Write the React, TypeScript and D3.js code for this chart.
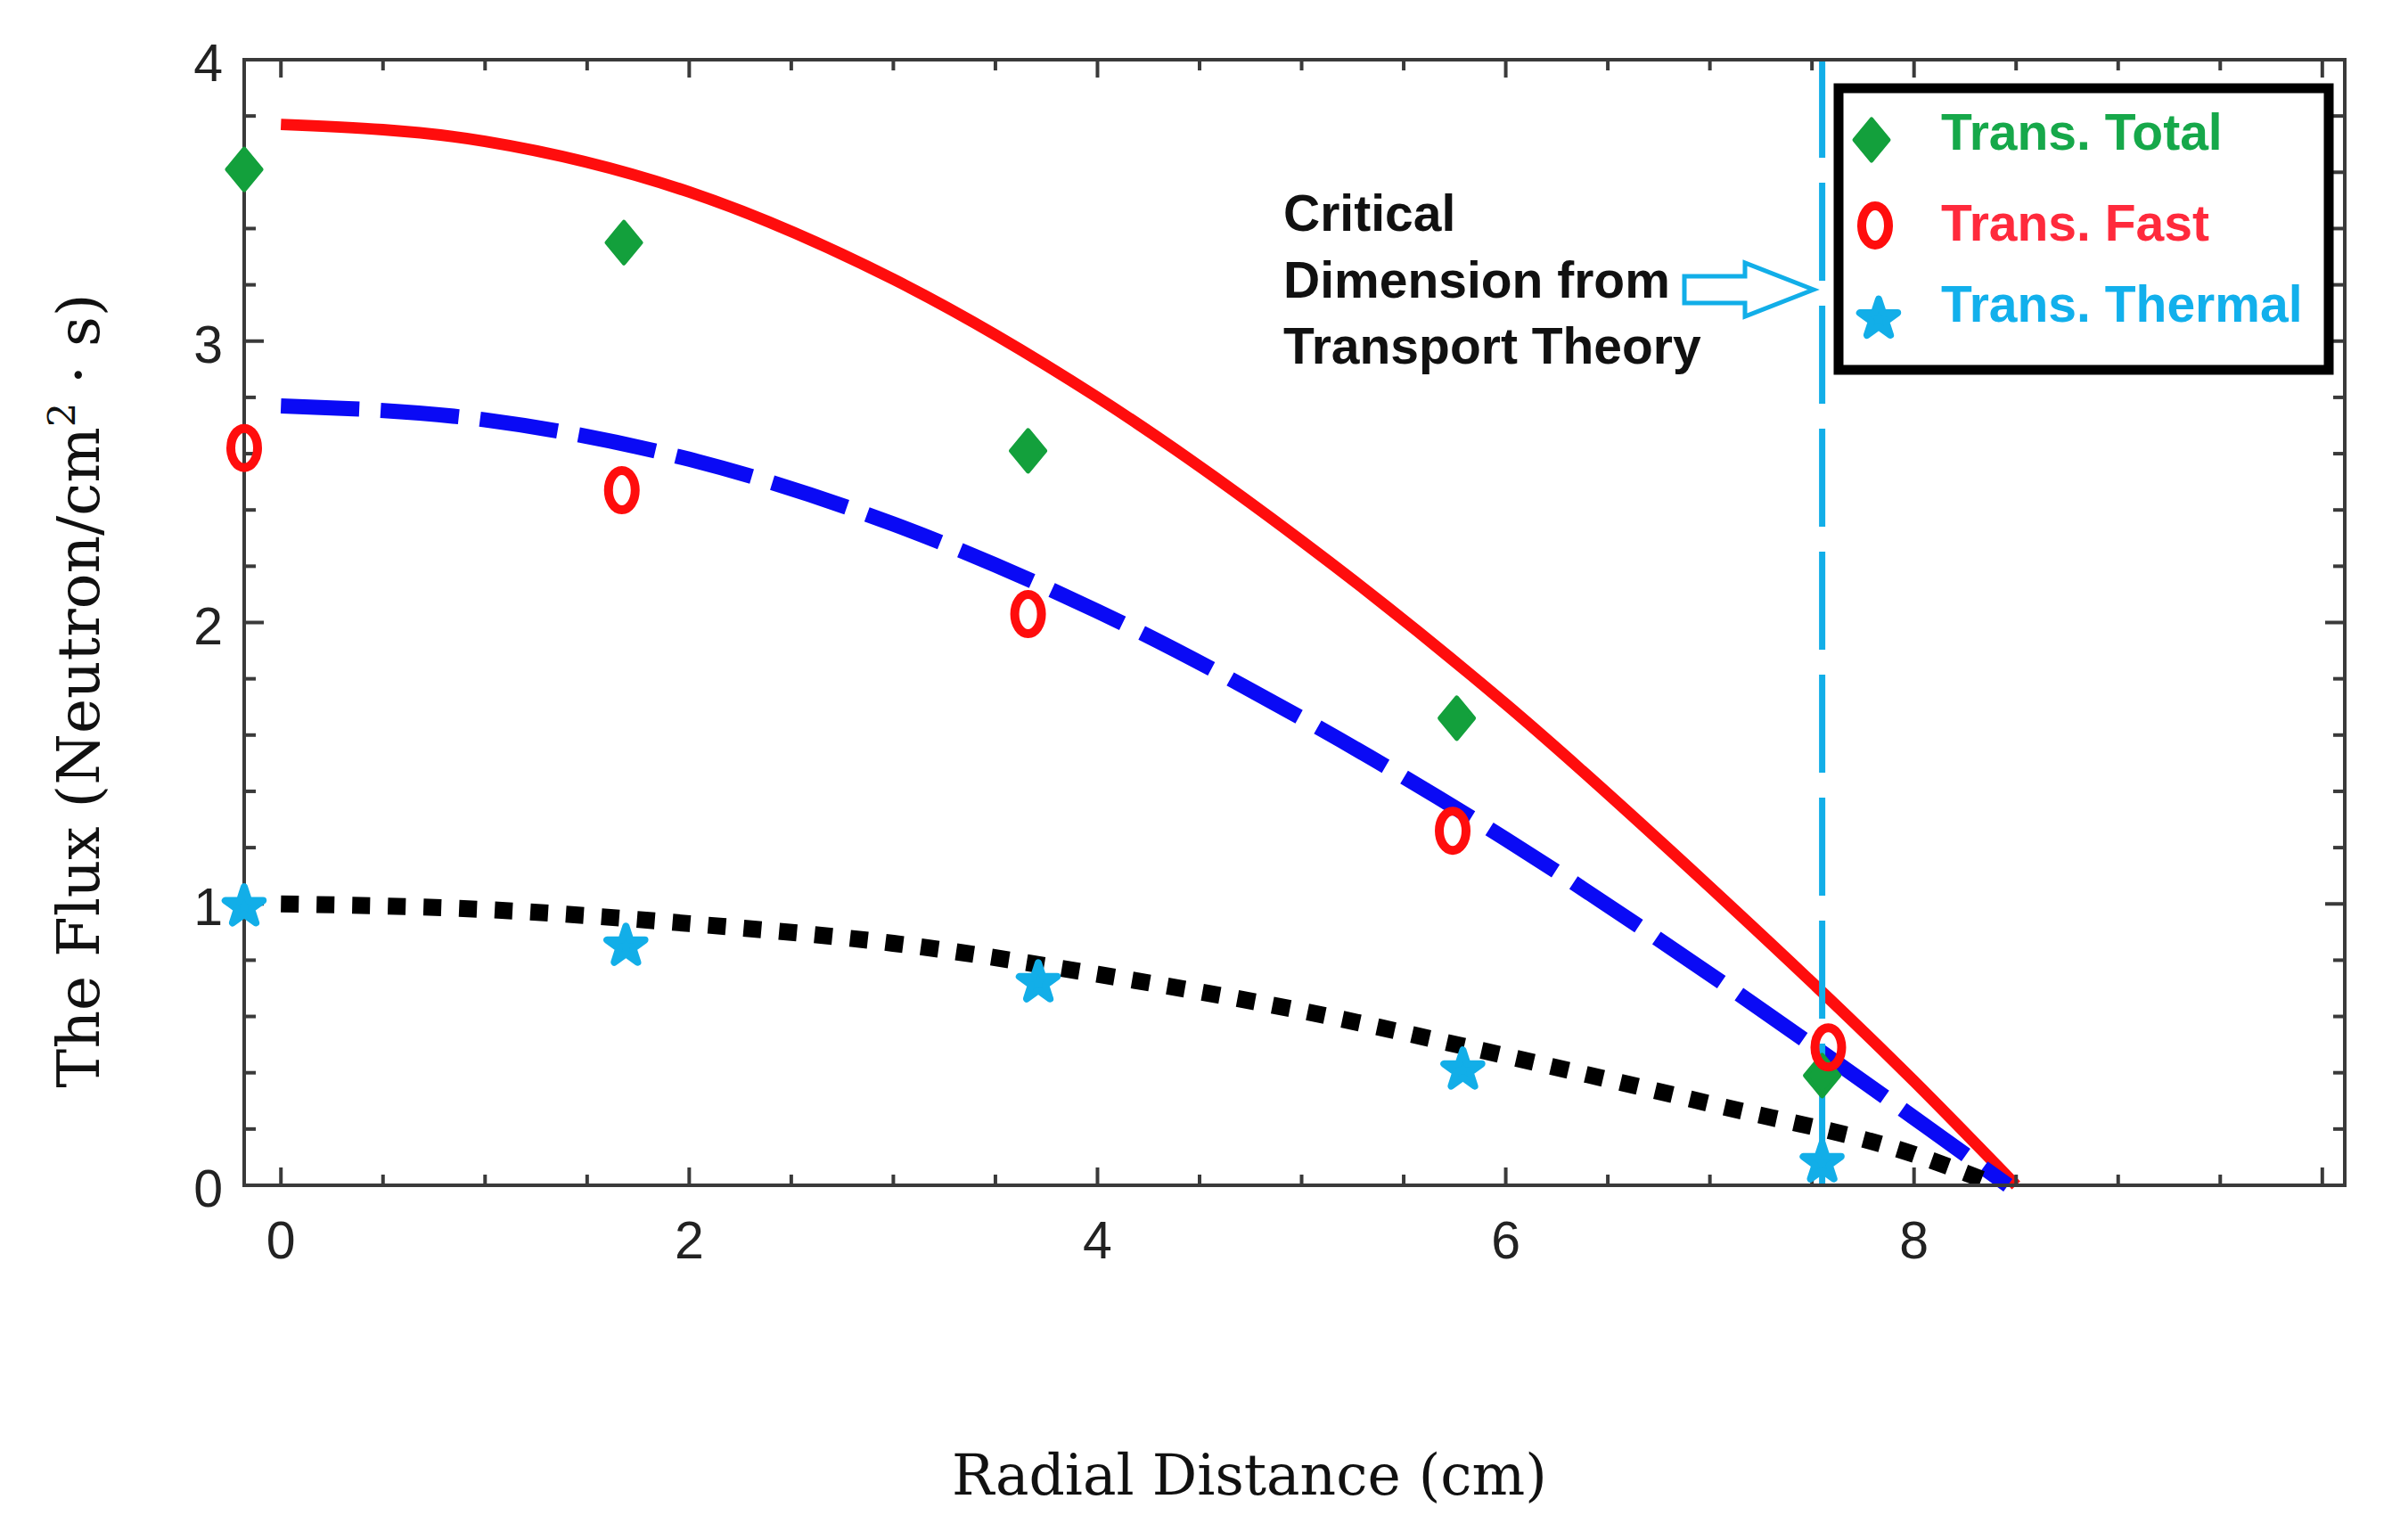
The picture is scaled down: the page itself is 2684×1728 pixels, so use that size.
import * as d3 from "d3";

// canvas + plot frame
const W = 2684, H = 1728;
const left = 274, right = 2631, top = 67, bottom = 1330;

// measured points
const totalX = [-0.18, 1.68, 3.66, 5.76, 7.55];
const totalY = [3.61, 3.35, 2.61, 1.66, 0.39];
const fastX = [-0.18, 1.67, 3.66, 5.74, 7.58];
const fastY = [2.62, 2.47, 2.03, 1.26, 0.49];
const thermalX = [-0.18, 1.69, 3.71, 5.79, 7.55];
const thermalY = [0.99, 0.85, 0.72, 0.41, 0.08];

// fitted curves
const redX = [0, 1, 2, 3, 4, 5, 6, 7, 8, 8.5];
const redY = [3.77, 3.71, 3.53, 3.22, 2.8, 2.29, 1.71, 1.06, 0.37, 0];
const blueX = [0, 1, 2, 3, 4, 5, 6, 7, 8, 8.46];
const blueY = [2.77, 2.72, 2.58, 2.35, 2.04, 1.66, 1.23, 0.75, 0.24, 0];
const blackX = [0, 1, 2, 3, 4, 5, 6, 7, 8, 8.41];
const blackY = [1.0, 0.98, 0.93, 0.86, 0.75, 0.62, 0.46, 0.29, 0.11, 0];

const criticalX = 7.55;

const xLabels = [0, 2, 4, 6, 8];
const yLabels = [0, 1, 2, 3, 4];

const legendItems = ["Trans. Total", "Trans. Fast", "Trans. Thermal"];
const noteLines = ["Critical", "Dimension from", "Transport Theory"];

const GREEN = "#13a03c";
const RED = "#ff0d0d";
const CYAN = "#12aee8";
const AXIS = "#3a3a3a";

const x = d3.scaleLinear().domain([-0.18, 10.11]).range([left, right]);
const y = d3.scaleLinear().domain([0, 4]).range([bottom, top]);

const zip = (xs: number[], ys: number[]) => xs.map((v, i) => [v, ys[i]] as [number, number]);

const line = d3
  .line<[number, number]>()
  .x((d) => x(d[0]))
  .y((d) => y(d[1]))
  .curve(d3.curveMonotoneX);

const starPath = d3.symbol().type(d3.symbolStar).size(560)() as string;
const diamondPath = "M0,-23L19,0L0,23L-19,0Z";

const Diamond = ({ cx, cy }: { cx: number; cy: number }) => (
  <path d={diamondPath} transform={`translate(${cx},${cy})`} fill={GREEN} stroke={GREEN} strokeWidth={5} strokeLinejoin="round" />
);
const Ring = ({ cx, cy }: { cx: number; cy: number }) => (
  <ellipse cx={cx} cy={cy} rx={15} ry={22} fill="none" stroke={RED} strokeWidth={10} />
);
const Star = ({ cx, cy }: { cx: number; cy: number }) => (
  <path d={starPath} transform={`translate(${cx},${cy})`} fill={CYAN} stroke={CYAN} strokeWidth={8} strokeLinejoin="round" />
);

export default function App() {
  const xTicks = d3.range(0, 10.01, 0.5);
  const yTicks = d3.range(0, 4.001, 0.2);
  const sans = "'Liberation Sans', Arial, sans-serif";
  const serif = "'DejaVu Serif', serif";

  return (
    <svg width={W} height={H} style={{ position: "absolute", left: 0, top: 0, background: "#fff" }}>
      {/* curves */}
      <path d={line(zip(redX, redY)) as string} fill="none" stroke={RED} strokeWidth={13} />
      <path d={line(zip(blueX, blueY)) as string} fill="none" stroke="#0a0af5" strokeWidth={17} strokeDasharray="88 24" />
      <path d={line(zip(blackX, blackY)) as string} fill="none" stroke="#000" strokeWidth={19} strokeDasharray="20 20" />

      {/* critical dimension */}
      <line x1={x(criticalX)} x2={x(criticalX)} y1={top} y2={bottom} stroke={CYAN} strokeWidth={7} strokeDasharray="110 28" />

      {/* frame + ticks */}
      <rect x={left} y={top} width={right - left} height={bottom - top} fill="none" stroke={AXIS} strokeWidth={4} />
      {xTicks.map((t) => {
        const len = Math.abs(t % 2) < 1e-6 ? 20 : 12;
        return (
          <g key={"xt" + t} stroke={AXIS} strokeWidth={4}>
            <line x1={x(t)} x2={x(t)} y1={bottom} y2={bottom - len} />
            <line x1={x(t)} x2={x(t)} y1={top} y2={top + len} />
          </g>
        );
      })}
      {yTicks.map((t) => {
        const len = Math.abs(t - Math.round(t)) < 1e-6 ? 22 : 13;
        return (
          <g key={"yt" + t} stroke={AXIS} strokeWidth={4}>
            <line x1={left} x2={left + len} y1={y(t)} y2={y(t)} />
            <line x1={right} x2={right - len} y1={y(t)} y2={y(t)} />
          </g>
        );
      })}
      {xLabels.map((t) => (
        <text key={"xl" + t} x={x(t)} y={bottom + 82} textAnchor="middle" fontFamily={sans} fontSize={59} fill="#222">
          {t}
        </text>
      ))}
      {yLabels.map((t) => (
        <text key={"yl" + t} x={left - 24} y={y(t) + 24} textAnchor="end" fontFamily={sans} fontSize={59} fill="#222">
          {t}
        </text>
      ))}

      {/* markers */}
      {totalX.map((v, i) => <Diamond key={"d" + i} cx={x(v)} cy={y(totalY[i])} />)}
      {fastX.map((v, i) => <Ring key={"r" + i} cx={x(v)} cy={y(fastY[i])} />)}
      {thermalX.map((v, i) => <Star key={"s" + i} cx={x(v)} cy={y(thermalY[i])} />)}

      {/* legend */}
      <rect x={2063} y={99} width={550} height={316} fill="#fff" stroke="#000" strokeWidth={11} />
      <Diamond cx={2100} cy={157} />
      <Ring cx={2104} cy={253} />
      <Star cx={2108} cy={358} />
      {legendItems.map((s, i) => (
        <text key={s} x={2178} y={[168, 270, 361][i]} fontFamily={sans} fontWeight="bold" fontSize={57}
          fill={["#16a84a", "#ff2a3c", "#12b0ec"][i]}>
          {s}
        </text>
      ))}

      {/* annotation */}
      {noteLines.map((s, i) => (
        <text key={s} x={1440} y={259 + i * 74.5} fontFamily={sans} fontWeight="bold" fontSize={57} fill="#111">
          {s}
        </text>
      ))}
      <path d="M1890,310L1958,310L1958,295L2035,325L1958,355L1958,340L1890,340Z" fill="#fff" stroke={CYAN} strokeWidth={5} strokeLinejoin="miter" />

      {/* axis titles */}
      <text x={1402} y={1677} textAnchor="middle" fontFamily={serif} fontSize={63} fill="#111">
        Radial Distance (cm)
      </text>
      <text transform="translate(111,775) rotate(-90)" textAnchor="middle" fontFamily={serif} fontSize={66} fill="#111">
        The Flux (Neutron/cm
        <tspan dy={-27} fontSize={43}>2</tspan>
        <tspan dy={27}> · s)</tspan>
      </text>
    </svg>
  );
}
